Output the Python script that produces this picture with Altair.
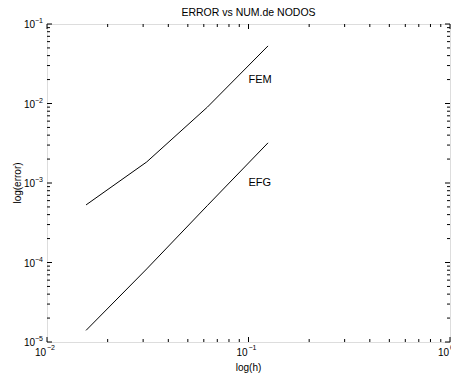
import math
import altair as alt
import pandas as pd

h_vals = [1/64, 1/32, 1/16, 1/8]
fem_err = [5.3e-4, 1.84e-3, 9.0e-3, 5.3e-2]
efg_err = [1.4e-5, 8.3e-5, 5.2e-4, 3.2e-3]
series_names = ["FEM", "EFG"]
label_h = [0.1, 0.1]
label_err = [0.02, 0.001]

x_major = [0.01, 0.1, 1.0]
y_major = [1e-5, 1e-4, 1e-3, 1e-2, 1e-1]
x_minor = [k * 10.0 ** d for d in (-2, -1) for k in range(2, 10)]
y_minor = [k * 10.0 ** d for d in (-5, -4, -3, -2) for k in range(2, 10)]

title_text = "ERROR vs NUM.de NODOS"
x_title = "log(h)"
y_title = "log(error)"

W, H = 403, 318
FONT = "Liberation Sans"
MAJ, MIN = 5, 3

rows = []
for name, errs in zip(series_names, [fem_err, efg_err]):
    for h, e in zip(h_vals, errs):
        rows.append({"h": h, "err": e, "serie": name})
df = pd.DataFrame(rows)
lab = pd.DataFrame({"h": label_h, "err": label_err, "txt": series_names})


def exp_str(v):
    e = int(round(math.log10(v)))
    return ("\u2212" if e < 0 else "") + str(abs(e))


xmaj = pd.DataFrame({"v": x_major, "e": [exp_str(v) for v in x_major]})
ymaj = pd.DataFrame({"v": y_major, "e": [exp_str(v) for v in y_major]})
xmin = pd.DataFrame({"v": x_minor})
ymin = pd.DataFrame({"v": y_minor})

xs = alt.Scale(type="log", domain=[0.01, 1.0], nice=False)
ys = alt.Scale(type="log", domain=[1e-5, 1e-1], nice=False)

lines = alt.Chart(df).mark_line(color="black", strokeWidth=1).encode(
    x=alt.X("h:Q", scale=xs, axis=None),
    y=alt.Y("err:Q", scale=ys, axis=None),
    detail="serie:N",
)

texts = alt.Chart(lab).mark_text(align="left", baseline="middle", font=FONT,
                                 fontSize=11, color="black").encode(
    x=alt.X("h:Q", scale=xs, axis=None),
    y=alt.Y("err:Q", scale=ys, axis=None),
    text="txt:N",
)


def xticks(data, y0, y1):
    return alt.Chart(data).mark_rule(color="black", strokeWidth=1).encode(
        x=alt.X("v:Q", scale=xs, axis=None), y=alt.value(y0), y2=alt.value(y1))


def yticks(data, x0, x1):
    return alt.Chart(data).mark_rule(color="black", strokeWidth=1).encode(
        y=alt.Y("v:Q", scale=ys, axis=None), x=alt.value(x0), x2=alt.value(x1))


tick_layers = [
    xticks(xmaj, H, H - MAJ), xticks(xmaj, 0, MAJ),
    xticks(xmin, H, H - MIN), xticks(xmin, 0, MIN),
    yticks(ymaj, 0, MAJ), yticks(ymaj, W, W - MAJ),
    yticks(ymin, 0, MIN), yticks(ymin, W, W - MIN),
]

xl_base = alt.Chart(xmaj).mark_text(align="right", baseline="middle", font=FONT,
                                    fontSize=10, color="black", dx=-1).encode(
    x=alt.X("v:Q", scale=xs, axis=None), y=alt.value(H + 11), text=alt.value("10"))
xl_exp = alt.Chart(xmaj).mark_text(align="left", baseline="middle", font=FONT,
                                   fontSize=7, color="black", dx=0).encode(
    x=alt.X("v:Q", scale=xs, axis=None), y=alt.value(H + 6), text="e:N")
yl_base = alt.Chart(ymaj).mark_text(align="right", baseline="middle", font=FONT,
                                    fontSize=10, color="black", dy=1).encode(
    y=alt.Y("v:Q", scale=ys, axis=None), x=alt.value(-12), text=alt.value("10"))
yl_exp = alt.Chart(ymaj).mark_text(align="right", baseline="middle", font=FONT,
                                   fontSize=7, color="black", dy=-3).encode(
    y=alt.Y("v:Q", scale=ys, axis=None), x=alt.value(-4), text="e:N")

titles = pd.DataFrame({"t": [title_text, x_title]})
main_title = alt.Chart(pd.DataFrame({"t": [title_text]})).mark_text(
    align="center", baseline="middle", font=FONT, fontSize=10.5, color="black").encode(
    x=alt.value(W / 2), y=alt.value(-11), text="t:N")
xt = alt.Chart(pd.DataFrame({"t": [x_title]})).mark_text(
    align="center", baseline="middle", font=FONT, fontSize=10, color="black").encode(
    x=alt.value(W / 2), y=alt.value(H + 26), text="t:N")
yt = alt.Chart(pd.DataFrame({"t": [y_title]})).mark_text(
    align="center", baseline="middle", font=FONT, fontSize=10, color="black",
    angle=270).encode(
    x=alt.value(-29), y=alt.value(H / 2), text="t:N")

chart = alt.layer(lines, texts, *tick_layers, xl_base, xl_exp, yl_base, yl_exp,
                  main_title, xt, yt).properties(
    width=W, height=H,
    autosize=alt.AutoSizeParams(type="none"),
    padding={"left": 47, "top": 24, "right": 1, "bottom": 33},
).configure_view(stroke="black", strokeWidth=1.5).configure(background="white")

chart.save("out.html", embed_options={"renderer": "svg", "actions": False})
